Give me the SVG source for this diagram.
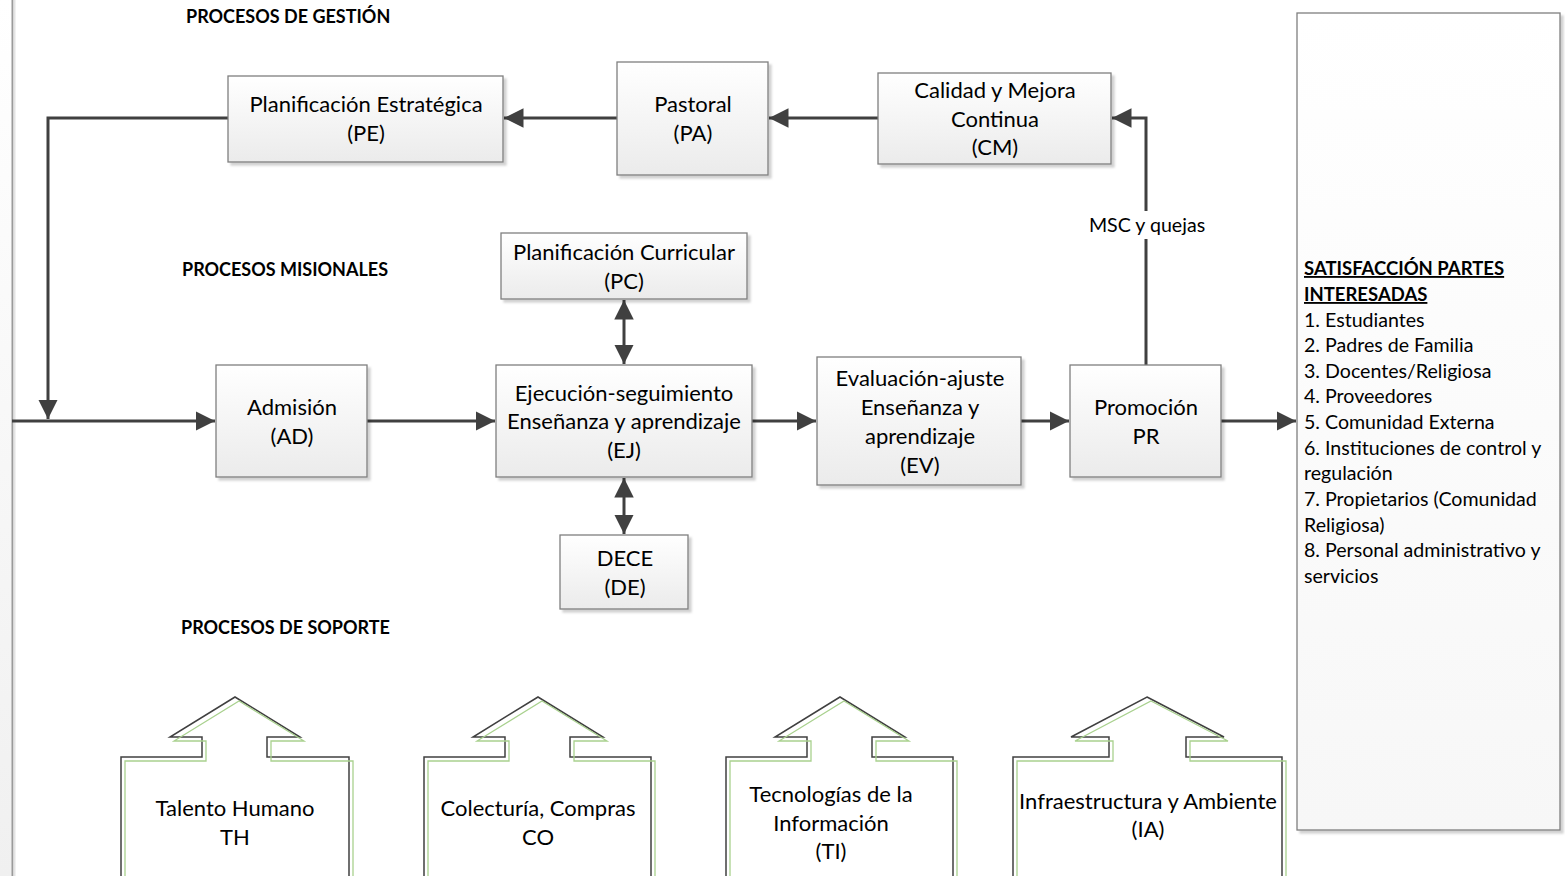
<svg xmlns="http://www.w3.org/2000/svg" width="1565" height="876" viewBox="0 0 1565 876">
<defs>
<linearGradient id="boxg" x1="0" y1="0" x2="0" y2="1">
<stop offset="0" stop-color="#ffffff"/>
<stop offset="1" stop-color="#ebebeb"/>
</linearGradient>
<linearGradient id="panelg" x1="0" y1="0" x2="0" y2="1">
<stop offset="0" stop-color="#ffffff"/>
<stop offset="1" stop-color="#f7f7f7"/>
</linearGradient>
<linearGradient id="edgeg" x1="0" y1="0" x2="0" y2="1">
<stop offset="0" stop-color="#ffffff"/>
<stop offset="1" stop-color="#f0f0f0"/>
</linearGradient>
<marker id="ah" viewBox="0 0 10 10" refX="10" refY="5" markerWidth="6.5" markerHeight="6.5" markerUnits="strokeWidth" orient="auto-start-reverse">
<path d="M0,0 L10,5 L0,10 z" fill="#404040"/>
</marker>
<filter id="sh" x="-10%" y="-10%" width="130%" height="130%">
<feDropShadow dx="3" dy="3" stdDeviation="1" flood-color="#000" flood-opacity="0.18"/>
</filter>
</defs>
<style>
.box{fill:url(#boxg);stroke:#7f7f7f;stroke-width:1.3;filter:url(#sh)}
.t{font-family:Lato,"Liberation Sans",sans-serif;font-size:22px;fill:#000;text-anchor:middle}
.h{font-family:Lato,"Liberation Sans",sans-serif;font-size:18px;font-weight:bold;fill:#000}
.p{font-family:Lato,"Liberation Sans",sans-serif;font-size:19.6px;fill:#000}
.pb{font-family:Lato,"Liberation Sans",sans-serif;font-size:18.5px;font-weight:bold;text-decoration:underline;fill:#000}
.c{fill:none;stroke:#404040;stroke-width:3}
.sup{fill:#fff;stroke:#404040;stroke-width:1.5}
.supg{fill:none;stroke:#a9d18e;stroke-width:1.3}
</style>
<rect x="0" y="0" width="1565" height="876" fill="#ffffff"/>
<rect x="0" y="0" width="12" height="876" fill="url(#edgeg)"/>
<line x1="12.5" y1="0" x2="12.5" y2="876" stroke="#9a9a9a" stroke-width="2"/>
<line x1="14.5" y1="0" x2="14.5" y2="876" stroke="#e4e4e4" stroke-width="2"/>

<g id="headings">
<text class="h" x="186" y="23">PROCESOS DE GESTIÓN</text>
<text class="h" x="182" y="276">PROCESOS MISIONALES</text>
<text class="h" x="181" y="634">PROCESOS DE SOPORTE</text>
</g>

<g id="connectors">
<polyline class="c" points="228,118 48,118 48,419" marker-end="url(#ah)"/>
<line class="c" x1="12" y1="421" x2="215" y2="421" marker-end="url(#ah)"/>
<line class="c" x1="617" y1="118" x2="504" y2="118" marker-end="url(#ah)"/>
<line class="c" x1="878" y1="118" x2="769" y2="118" marker-end="url(#ah)"/>
<polyline class="c" points="1146,365 1146,118 1112,118" marker-end="url(#ah)"/>
<line class="c" x1="367" y1="421" x2="495" y2="421" marker-end="url(#ah)"/>
<line class="c" x1="752" y1="421" x2="816" y2="421" marker-end="url(#ah)"/>
<line class="c" x1="1021" y1="421" x2="1069" y2="421" marker-end="url(#ah)"/>
<line class="c" x1="1221" y1="421" x2="1296" y2="421" marker-end="url(#ah)"/>
<line class="c" x1="624" y1="300" x2="624" y2="364" marker-start="url(#ah)" marker-end="url(#ah)"/>
<line class="c" x1="624" y1="478" x2="624" y2="534" marker-start="url(#ah)" marker-end="url(#ah)"/>
<rect x="1086" y="211" width="122" height="28" fill="#ffffff"/>
<text class="p" x="1147" y="232" text-anchor="middle">MSC y quejas</text>
</g>

<g id="PE">
<rect class="box" x="228" y="76" width="275" height="86"/>
<text class="t" x="366" y="112">Planificación Estratégica</text>
<text class="t" x="366" y="141">(PE)</text>
</g>
<g id="PA">
<rect class="box" x="617" y="62" width="151" height="113"/>
<text class="t" x="693" y="112">Pastoral</text>
<text class="t" x="693" y="141">(PA)</text>
</g>
<g id="CM">
<rect class="box" x="878" y="73" width="233" height="91"/>
<text class="t" x="995" y="98">Calidad y Mejora</text>
<text class="t" x="995" y="127">Continua</text>
<text class="t" x="995" y="155">(CM)</text>
</g>
<g id="PC">
<rect class="box" x="501" y="233" width="246" height="66"/>
<text class="t" x="624" y="260">Planificación Curricular</text>
<text class="t" x="624" y="289">(PC)</text>
</g>
<g id="AD">
<rect class="box" x="216" y="365" width="151" height="112"/>
<text class="t" x="292" y="415">Admisión</text>
<text class="t" x="292" y="444">(AD)</text>
</g>
<g id="EJ">
<rect class="box" x="496" y="365" width="256" height="112"/>
<text class="t" x="624" y="401">Ejecución-seguimiento</text>
<text class="t" x="624" y="429">Enseñanza y aprendizaje</text>
<text class="t" x="624" y="458">(EJ)</text>
</g>
<g id="EV">
<rect class="box" x="817" y="357" width="204" height="128"/>
<text class="t" x="920" y="386">Evaluación-ajuste</text>
<text class="t" x="920" y="415">Enseñanza y</text>
<text class="t" x="920" y="444">aprendizaje</text>
<text class="t" x="920" y="473">(EV)</text>
</g>
<g id="PR">
<rect class="box" x="1070" y="365" width="151" height="112"/>
<text class="t" x="1146" y="415">Promoción</text>
<text class="t" x="1146" y="444">PR</text>
</g>
<g id="DE">
<rect class="box" x="560" y="535" width="128" height="74"/>
<text class="t" x="625" y="566">DECE</text>
<text class="t" x="625" y="595">(DE)</text>
</g>

<g id="panel">
<rect x="1297" y="13" width="263" height="817" fill="url(#panelg)" stroke="#7f7f7f" stroke-width="1.3" filter="url(#sh)"/>
<text class="pb" x="1304" y="275">SATISFACCIÓN PARTES</text>
<text class="pb" x="1304" y="301">INTERESADAS</text>
<text class="p" x="1304" y="327">1. Estudiantes</text>
<text class="p" x="1304" y="352">2. Padres de Familia</text>
<text class="p" x="1304" y="378">3. Docentes/Religiosa</text>
<text class="p" x="1304" y="403">4. Proveedores</text>
<text class="p" x="1304" y="429">5. Comunidad Externa</text>
<text class="p" x="1304" y="455">6. Instituciones de control y</text>
<text class="p" x="1304" y="480">regulación</text>
<text class="p" x="1304" y="506">7. Propietarios (Comunidad</text>
<text class="p" x="1304" y="532">Religiosa)</text>
<text class="p" x="1304" y="557">8. Personal administrativo y</text>
<text class="p" x="1304" y="583">servicios</text>
</g>

<g id="TH">
<path class="sup" d="M235,697 L300,737 L267,737 L267,757 L349,757 L349,880 L121,880 L121,757 L202,757 L202,737 L170,737 Z"/>
<path class="supg" d="M239,701 L304,741 L271,741 L271,761 L353,761 L353,880 L125,880 L125,761 L206,761 L206,741 L174,741 Z"/>
<text class="t" x="235" y="816">Talento Humano</text>
<text class="t" x="235" y="845">TH</text>
</g>
<g id="CO">
<path class="sup" d="M538,697 L603,737 L570,737 L570,757 L651,757 L651,880 L424,880 L424,757 L505,757 L505,737 L473,737 Z"/>
<path class="supg" d="M542,701 L607,741 L574,741 L574,761 L655,761 L655,880 L428,880 L428,761 L509,761 L509,741 L477,741 Z"/>
<text class="t" x="538" y="816">Colecturía, Compras</text>
<text class="t" x="538" y="845">CO</text>
</g>
<g id="TI">
<path class="sup" d="M840,697 L905,737 L872,737 L872,757 L953,757 L953,880 L726,880 L726,757 L807,757 L807,737 L775,737 Z"/>
<path class="supg" d="M844,701 L909,741 L876,741 L876,761 L957,761 L957,880 L730,880 L730,761 L811,761 L811,741 L779,741 Z"/>
<text class="t" x="831" y="802">Tecnologías de la</text>
<text class="t" x="831" y="831">Información</text>
<text class="t" x="831" y="859">(TI)</text>
</g>
<g id="IA">
<path class="sup" d="M1147,697 L1224,737 L1186,737 L1186,757 L1282,757 L1282,880 L1013,880 L1013,757 L1109,757 L1109,737 L1071,737 Z"/>
<path class="supg" d="M1151,701 L1228,741 L1190,741 L1190,761 L1286,761 L1286,880 L1017,880 L1017,761 L1113,761 L1113,741 L1075,741 Z"/>
<text class="t" x="1148" y="809">Infraestructura y Ambiente</text>
<text class="t" x="1148" y="837">(IA)</text>
</g>
</svg>
